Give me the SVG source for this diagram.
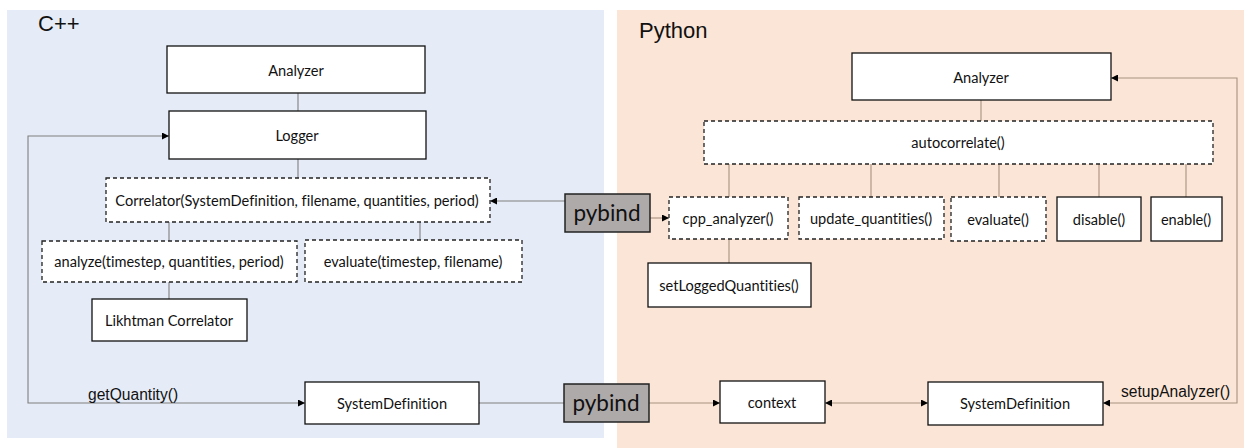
<svg xmlns="http://www.w3.org/2000/svg" width="1244" height="448" viewBox="0 0 1244 448">
<defs>
<marker id="ah" viewBox="0 0 10 10" refX="10" refY="5" markerWidth="7" markerHeight="7" orient="auto-start-reverse" markerUnits="userSpaceOnUse"><path d="M0,0 L10,5 L0,10 z" fill="#000"/></marker>
</defs>
<style>
.box{fill:#fff;stroke:#111;stroke-width:1.3}
.dbox{fill:#fff;stroke:#222;stroke-width:1.3;stroke-dasharray:4 3}
.pb{fill:#aeaaaa;stroke:#222;stroke-width:1.5}
.t{font-family:Lato,"Liberation Sans",sans-serif;font-size:14.6px;fill:#111;text-anchor:middle;dominant-baseline:central;font-variant-ligatures:none}
.pbt{font-family:Lato,"Liberation Sans",sans-serif;font-size:22.5px;fill:#111;text-anchor:middle;dominant-baseline:central}
.h{font-family:"Liberation Sans",Arial,sans-serif;font-size:22px;fill:#111}
.l{font-family:"Liberation Sans",Arial,sans-serif;font-size:15.6px;fill:#111}
.cl{fill:none;stroke:#7f7f7f;stroke-width:1.1}
.pl{fill:none;stroke:#a8917f;stroke-width:1.1}
</style>
<rect x="7" y="10" width="597" height="428" fill="#e6ecf7"/>
<rect x="617" y="10" width="627" height="438" fill="#fbe5d6"/>
<text class="h" x="38" y="31">C++</text>
<text class="h" x="639" y="38">Python</text>

<g id="connectors">
<line class="cl" x1="298" y1="93" x2="298" y2="111"/>
<line class="cl" x1="298" y1="159" x2="298" y2="178"/>
<line class="cl" x1="169" y1="222" x2="169" y2="241"/>
<line class="cl" x1="420" y1="222" x2="420" y2="240"/>
<line class="cl" x1="169" y1="282" x2="169" y2="299"/>
<path class="cl" d="M169,136 H28 V403 H305" marker-start="url(#ah)" marker-end="url(#ah)"/>
<line class="cl" x1="479" y1="403" x2="564" y2="403"/>
<line class="cl" x1="565" y1="201" x2="490" y2="201" marker-end="url(#ah)"/>
<line class="pl" x1="650" y1="218" x2="669" y2="218" marker-end="url(#ah)"/>
<line class="pl" x1="649" y1="403" x2="720" y2="403" marker-end="url(#ah)"/>
<line class="pl" x1="825" y1="403" x2="928" y2="403" marker-start="url(#ah)" marker-end="url(#ah)"/>
<path class="pl" d="M1103,403 H1237 V78 H1111" marker-start="url(#ah)" marker-end="url(#ah)"/>
<line class="pl" x1="981" y1="100" x2="981" y2="121"/>
<line class="pl" x1="729" y1="164" x2="729" y2="197"/>
<line class="pl" x1="871" y1="164" x2="871" y2="197"/>
<line class="pl" x1="999" y1="164" x2="999" y2="197"/>
<line class="pl" x1="1099" y1="164" x2="1099" y2="197"/>
<line class="pl" x1="1186" y1="164" x2="1186" y2="197"/>
<line class="pl" x1="729" y1="239" x2="729" y2="263"/>
<text class="l" x="88" y="400">getQuantity()</text>
<text class="l" x="1121" y="397">setupAnalyzer()</text>
</g>

<g id="cpp-analyzer"><rect class="box" x="167" y="46" width="258" height="47"/><text class="t" x="296" y="70">Analyzer</text></g>
<g id="logger"><rect class="box" x="169" y="111" width="257" height="48"/><text class="t" x="297" y="135">Logger</text></g>
<g id="correlator"><rect class="dbox" x="106" y="178" width="384" height="44"/><text class="t" x="297" y="200">Correlator(SystemDefinition, filename, quantities, period)</text></g>
<g id="analyze"><rect class="dbox" x="42" y="241" width="255" height="41"/><text class="t" x="169" y="261">analyze(timestep, quantities, period)</text></g>
<g id="evaluate-cpp"><rect class="dbox" x="305" y="240" width="217" height="42"/><text class="t" x="413" y="261">evaluate(timestep, filename)</text></g>
<g id="likhtman"><rect class="box" x="92" y="299" width="155" height="42"/><text class="t" x="169" y="320">Likhtman Correlator</text></g>
<g id="sysdef-cpp"><rect class="box" x="305" y="382" width="174" height="42"/><text class="t" x="392" y="403">SystemDefinition</text></g>
<g id="pybind-top"><rect class="pb" x="565" y="194" width="85" height="38"/><text class="pbt" x="607" y="212">pybind</text></g>
<g id="pybind-bottom"><rect class="pb" x="564" y="384" width="85" height="38"/><text class="pbt" x="606" y="402">pybind</text></g>

<g id="py-analyzer"><rect class="box" x="852" y="53" width="259" height="47"/><text class="t" x="981" y="77">Analyzer</text></g>
<g id="autocorrelate"><rect class="dbox" x="704" y="121" width="509" height="43"/><text class="t" x="958" y="142">autocorrelate()</text></g>
<g id="cpp-analyzer-py"><rect class="dbox" x="669" y="197" width="119" height="42"/><text class="t" x="728" y="218">cpp_analyzer()</text></g>
<g id="update-quantities"><rect class="dbox" x="799" y="197" width="145" height="42"/><text class="t" x="871" y="218">update_quantities()</text></g>
<g id="evaluate-py"><rect class="dbox" x="951" y="197" width="95" height="44"/><text class="t" x="998" y="219">evaluate()</text></g>
<g id="disable"><rect class="box" x="1057" y="197" width="84" height="44"/><text class="t" x="1099" y="219">disable()</text></g>
<g id="enable"><rect class="box" x="1151" y="197" width="71" height="44"/><text class="t" x="1186" y="219">enable()</text></g>
<g id="setlogged"><rect class="box" x="648" y="263" width="163" height="44"/><text class="t" x="729" y="285">setLoggedQuantities()</text></g>
<g id="context"><rect class="box" x="720" y="381" width="105" height="42"/><text class="t" x="772" y="402">context</text></g>
<g id="sysdef-py"><rect class="box" x="928" y="382" width="175" height="43"/><text class="t" x="1015" y="403">SystemDefinition</text></g>
</svg>
